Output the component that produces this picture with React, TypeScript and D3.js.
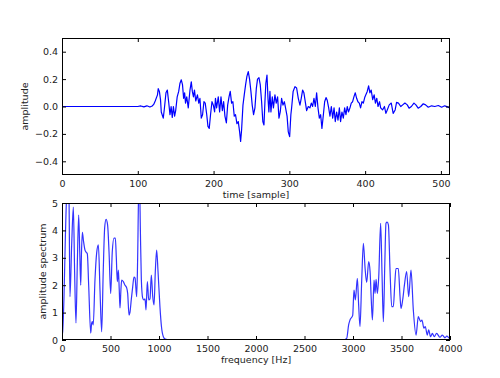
import React, { useEffect, useRef } from "react";
import * as d3 from "d3";

// values: [sample, amplitude]
const timeSignal: [number, number][] = [
  [0, 0], [100, 0], [104, 0.004], [108, -0.003], [112, 0.005], [116, -0.004], [119, 0.004],
  [121, 0.015], [123, 0.04], [126, 0.085], [127, 0.13], [128.5, 0.11], [130, 0.05], [131, -0.04],
  [133.6, -0.085], [135, -0.02], [137.2, 0.1], [139, 0.12], [141, 0.02], [142.5, -0.06], [144, 0],
  [145.5, -0.08], [147, 0], [148.6, -0.07], [150, -0.03], [152, 0.07], [154, 0.11], [155.7, 0.17],
  [157.4, 0.195], [159, 0.16], [160.5, 0.06], [161.8, 0.1], [163, 0.025], [164.6, 0.07],
  [166.6, -0.01], [168.9, 0.12], [170.6, 0.18], [172, 0.11], [173.5, 0.07], [174.8, 0.12],
  [176.5, 0.04], [178.7, 0.085], [180.5, 0.025], [182, 0.06], [183.8, -0.085], [185.5, -0.06],
  [187.3, 0.035], [189, 0.025], [191, -0.06], [192.6, -0.145], [194.3, -0.16], [196, -0.06],
  [197.9, 0.035], [199.7, 0.01], [201.4, -0.04], [202.5, 0.06], [204, -0.01], [206.2, 0.07],
  [208, -0.04], [209.8, 0.07], [211.6, -0.03], [213.3, 0.035], [215, -0.07], [216.9, -0.12],
  [218.6, 0.01], [220.4, 0.07], [222, 0.11], [223.8, 0.025], [225.5, 0.035], [227.3, -0.07],
  [229, -0.06], [230.8, -0.125], [232.6, -0.11], [234.4, -0.185], [235.7, -0.255], [237, -0.17],
  [238.8, 0.01], [240.5, 0.085], [242.3, 0.16], [244, 0.22], [245.8, 0.255], [247.5, 0.2],
  [249.3, 0.11], [251, 0.01], [252.8, -0.06], [254.6, -0.01], [256.4, 0.13], [258, 0.2],
  [259.9, 0.21], [261.6, 0.16], [263.4, 0.035], [265, -0.11], [266.5, -0.135], [267.8, 0.035],
  [269, 0.17], [270.5, 0.23], [271.8, 0.06], [273, -0.04], [274.4, 0.11], [275.7, -0.04],
  [277.5, 0.07], [279, -0.01], [281, 0.085], [282.7, 0.025], [284.5, 0.07], [286.3, -0.085],
  [288, -0.04], [289.8, 0.06], [291.6, 0.01], [293.4, 0.035], [295, -0.01], [297, -0.07],
  [298.6, -0.185], [300.4, -0.22], [302, -0.06], [303, -0.01], [305, 0.11], [307.4, 0.145],
  [309.6, 0.135], [311.8, 0.06], [314, 0.01], [315.7, 0.06], [317.5, 0.12], [319.2, 0.1],
  [321, 0.035], [322.8, -0.03], [325, 0], [327.2, -0.01], [329, 0.025], [330.7, 0], [332.5, 0.06],
  [334.3, 0], [336, 0.1], [337.8, -0.01], [339.6, -0.085], [341.3, -0.06], [343, -0.16],
  [344.9, -0.06], [346.6, 0.035], [348.4, 0.065], [350, 0.045], [351.9, -0.01], [353.6, -0.07],
  [355.4, 0], [357.2, -0.085], [359, -0.01], [360.6, -0.11], [362.4, -0.04], [364.2, -0.1],
  [366, -0.01], [367.6, -0.11], [369.4, -0.04], [371.2, -0.085], [373, -0.01], [374.7, -0.06],
  [376.4, 0], [378, -0.04], [380, -0.01], [381.7, 0.025], [383.5, 0.035], [385.2, 0.07],
  [387, 0.1], [388.8, 0.06], [390.5, 0.035], [392.3, 0.025], [394, -0.01], [395.8, 0.035],
  [397.6, 0.025], [399.7, 0.07], [402.8, 0.11], [404.6, 0.15], [406.3, 0.1], [408, 0.12],
  [410, 0.05], [411.9, 0.085], [413.6, 0.025], [415.4, 0.06], [417, 0], [419, 0.035],
  [420.5, -0.01], [423, -0.025], [425.5, 0], [427.4, -0.05], [429.2, -0.025], [431.8, 0.012],
  [434.5, 0.025], [437, -0.05], [439.6, -0.025], [441.5, 0.03], [444, 0.025], [447, 0],
  [449.6, 0.012], [452.5, 0.025], [455.6, 0.012], [458, -0.012], [461, 0], [464.4, 0.025],
  [467, 0.012], [470, -0.012], [473.4, 0], [476.7, 0.02], [479.8, 0.012], [483.3, -0.005],
  [487.7, 0.005], [492, 0], [496.6, 0.007], [501, -0.005], [505, 0.005], [509.7, -0.005],
  [511, -0.01],
];

// [frequency Hz, amplitude]
const spectrum: [number, number][] = [
  [0, 0.15], [7, 0.3], [20, 1.5], [35, 3.8], [50, 5.4], [62, 5.6], [72, 5.2], [82, 1.58],
  [100, 3.5], [117, 4.85], [130, 2.5], [144, 0.62], [158, 2.8], [172, 4.56], [183, 3.2],
  [193, 2.0], [201, 3.2], [210, 3.93], [222, 3.6], [237, 3.28], [250, 3.2], [261, 3.15],
  [275, 2.0], [296, 0.25], [305, 0.6], [313, 0.67], [322, 0.55], [340, 2.2], [358, 3.2],
  [375, 3.47], [392, 1.8], [409, 0.3], [425, 2.5], [440, 4.1], [454, 4.4], [470, 4.2],
  [485, 3.2], [502, 1.7], [518, 3.2], [536, 3.72], [550, 3.72], [560, 3.0], [570, 2.13],
  [581, 2.55], [590, 1.85], [598, 1.17], [607, 1.8], [615, 2.19], [632, 2.13], [650, 2.0],
  [667, 1.9], [677, 1.7], [691, 0.91], [700, 1.0], [715, 1.5], [729, 1.95], [742, 2.3],
  [753, 2.26], [770, 1.58], [780, 3.0], [790, 5.3], [800, 5.6], [808, 4.0], [818, 2.2],
  [832, 1.53], [845, 1.46], [856, 1.5], [866, 1.1], [880, 2.13], [894, 1.46], [907, 1.5],
  [921, 2.37], [935, 1.6], [949, 1.28], [962, 2.5], [976, 3.28], [990, 2.5], [1010, 1.2],
  [1025, 0.5], [1045, 0.12], [1065, 0.03], [1100, 0.01], [2900, 0.01], [2935, 0.06],
  [2955, 0.55], [2969, 0.73], [2997, 0.9], [3010, 1.82], [3024, 1.46], [3045, 2.25],
  [3058, 1.3], [3072, 0.49], [3090, 2.2], [3107, 3.53], [3125, 2.6], [3141, 2.1], [3162, 2.86],
  [3176, 2.5], [3188, 1.5], [3200, 0.73], [3217, 2.19], [3227, 1.7], [3238, 2.21], [3251, 1.7],
  [3265, 2.28], [3285, 4.26], [3300, 2.3], [3313, 0.67], [3328, 2.8], [3340, 4.26], [3352, 4.3],
  [3365, 4.2], [3382, 2.5], [3399, 1.22], [3416, 1.22], [3430, 2.0], [3443, 2.61], [3467, 2.61],
  [3485, 1.58], [3495, 1.15], [3512, 1.46], [3530, 2.0], [3553, 2.5], [3574, 1.58], [3598, 2.55],
  [3622, 1.09], [3650, 0.18], [3673, 0.85], [3697, 0.67], [3711, 0.73], [3731, 0.43],
  [3745, 0.49], [3766, 0.18], [3780, 0.37], [3800, 0.12], [3818, 0.24], [3838, 0.12],
  [3862, 0.24], [3897, 0.1], [3921, 0.18], [3948, 0.08], [3966, 0.14], [3993, 0.06], [4000, 0.04],
];

const timeTicks = [0, 100, 200, 300, 400, 500];
const ampTicks = [-0.4, -0.2, 0, 0.2, 0.4];
const freqTicks = [0, 500, 1000, 1500, 2000, 2500, 3000, 3500, 4000];
const specTicks = [0, 1, 2, 3, 4, 5];

const W = 500;
const H = 378;
const FONT = "'DejaVu Sans', sans-serif";

const App = () => {
  const svgRef = useRef<SVGSVGElement>(null);

  useEffect(() => {
    const svg = d3.select(svgRef.current);
    svg.selectAll("*").remove();

    const left = 62;
    const right = 450;

    const panel = (
      id: string,
      top: number,
      bottom: number,
      xDomain: [number, number],
      yDomain: [number, number],
      xTicks: number[],
      yTicks: number[],
      yFmt: (d: number) => string,
      data: [number, number][],
      xLabel: string,
      yLabel: string,
      yLabelX: number,
      curve: d3.CurveFactory,
      lineColor: string
    ) => {
      const x = d3.scaleLinear().domain(xDomain).range([left, right]);
      const y = d3.scaleLinear().domain(yDomain).range([bottom, top]);
      const g = svg.append("g");

      g.append("clipPath")
        .attr("id", id)
        .append("rect")
        .attr("x", left)
        .attr("y", top)
        .attr("width", right - left)
        .attr("height", bottom - top);

      const line = d3
        .line<[number, number]>()
        .x((d) => x(d[0]))
        .y((d) => y(d[1]))
        .curve(curve);

      g.append("path")
        .datum(data)
        .attr("clip-path", `url(#${id})`)
        .attr("fill", "none")
        .attr("stroke", lineColor)
        .attr("stroke-width", 1.2)
        .attr("stroke-linejoin", "round")
        .attr("d", line);

      // axes: ticks point inward on all four sides
      const styleAxis = (a: d3.Selection<SVGGElement, unknown, null, undefined>) => {
        a.select(".domain").remove();
        a.selectAll("line").attr("stroke", "#000");
        a.selectAll("text")
          .attr("fill", "#222")
          .style("font-family", FONT)
          .style("font-size", "9.5px");
      };

      g.append("g")
        .attr("transform", `translate(0,${bottom})`)
        .call(d3.axisBottom(x).tickValues(xTicks).tickSize(-4).tickPadding(5).tickFormat(d3.format("d")))
        .call(styleAxis);
      g.append("g")
        .attr("transform", `translate(0,${top})`)
        .call(d3.axisTop(x).tickValues(xTicks).tickSize(-4).tickFormat(() => ""))
        .call(styleAxis);
      g.append("g")
        .attr("transform", `translate(${left},0)`)
        .call(d3.axisLeft(y).tickValues(yTicks).tickSize(-4).tickPadding(4).tickFormat(yFmt as any))
        .call(styleAxis);
      g.append("g")
        .attr("transform", `translate(${right},0)`)
        .call(d3.axisRight(y).tickValues(yTicks).tickSize(-4).tickFormat(() => ""))
        .call(styleAxis);

      g.append("rect")
        .attr("x", left + 0.5)
        .attr("y", top + 0.5)
        .attr("width", right - left - 1)
        .attr("height", bottom - top - 1)
        .attr("fill", "none")
        .attr("stroke", "#000")
        .attr("stroke-width", 1);

      g.append("text")
        .attr("x", (left + right) / 2)
        .attr("y", bottom + 23)
        .attr("text-anchor", "middle")
        .attr("fill", "#222")
        .style("font-family", FONT)
        .style("font-size", "9.5px")
        .text(xLabel);

      g.append("text")
        .attr("transform", `translate(${yLabelX},${(top + bottom) / 2}) rotate(-90)`)
        .attr("text-anchor", "middle")
        .attr("fill", "#222")
        .style("font-family", FONT)
        .style("font-size", "9.5px")
        .text(yLabel);
    };

    panel(
      "clipTop", 38, 175, [0, 512], [-0.5, 0.5], timeTicks, ampTicks,
      d3.format(".1f"), timeSignal, "time [sample]", "amplitude", 28, d3.curveLinear, "#0000ff"
    );
    panel(
      "clipBottom", 203, 340, [0, 4000], [0, 5], freqTicks, specTicks,
      d3.format("d"), spectrum, "frequency [Hz]", "amplitude spectrum", 46, d3.curveMonotoneX, "#3333ff"
    );
  }, []);

  return (
    <div style={{ position: "absolute", left: 0, top: 0 }}>
      <svg ref={svgRef} width={W} height={H} style={{ display: "block", background: "#fff" }}></svg>
    </div>
  );
};

export default App;
